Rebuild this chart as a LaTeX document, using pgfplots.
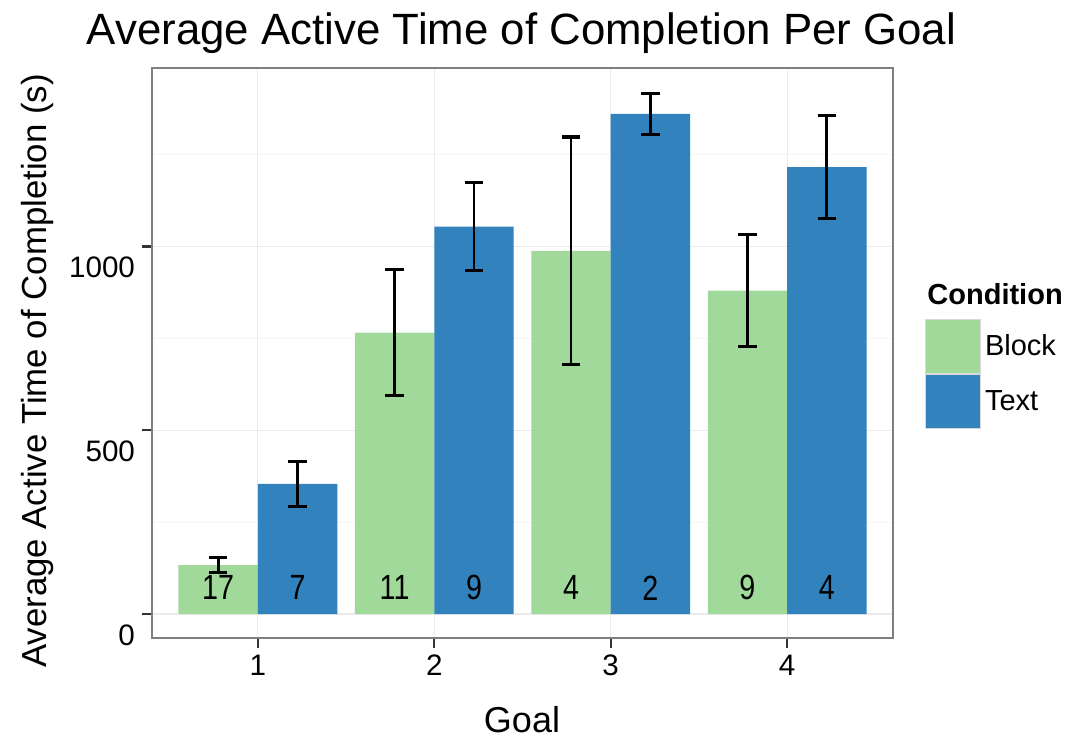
\documentclass[border=0pt]{standalone}
\usepackage{pgfplots}
\pgfplotsset{compat=1.18}
\usepackage{fontspec}
\setmainfont{Liberation Sans}
\definecolor{blockc}{HTML}{A1D99B}
\definecolor{textc}{HTML}{3182BD}
\definecolor{gridmaj}{HTML}{EBEBEB}
\definecolor{gridmin}{HTML}{F5F5F5}
\definecolor{framec}{HTML}{7F7F7F}
\definecolor{tickc}{HTML}{333333}
\begin{document}
\begin{tikzpicture}
\useasboundingbox (-76pt,-50pt) rectangle (458pt,319pt);
\begin{axis}[
  at={(0pt,0pt)}, anchor=south west,
  scale only axis, width=370.5pt, height=285pt,
  xmin=0.4, xmax=4.6, ymin=-65.3, ymax=1486,
  xtick={1,2,3,4}, ytick={0,500,1000}, minor ytick={250,750,1250},
  grid=both,
  major grid style={gridmaj, line width=0.6pt},
  minor grid style={gridmin, line width=0.4pt},
  axis line style={framec, line width=0.8pt},
  tick align=outside, tick pos=left,
  major tick length=5pt, minor tick length=0pt,
  tick style={tickc, line width=1.1pt},
  /pgf/number format/assume math mode=true,
  /pgf/number format/1000 sep={},
  ticklabel style={font=\fontsize{14.8}{17}\selectfont, text=black},
  yticklabel style={yshift=-10.5pt},
  legend style={at={(rel axis cs:1.043,0.5596)}, anchor=north west, draw=none, fill=none,
    inner sep=0pt, row sep=0pt, font=\fontsize{14.5}{17}\selectfont},
  legend cell align=left,
  legend image code/.code={\draw[#1,/tikz/.cd,draw=gray!30,line width=0.4pt] (0pt,-13.5pt) rectangle (27.5pt,13.5pt);},
]
\addplot[ybar, bar width=0.45, bar shift=0pt, fill=blockc, draw=none]
  coordinates {(0.775,133) (1.775,766) (2.775,988) (3.775,880)};
\addlegendentry{Block}
\addplot[ybar, bar width=0.45, bar shift=0pt, fill=textc, draw=none]
  coordinates {(1.225,354) (2.225,1054) (3.225,1361) (4.225,1216)};
\addlegendentry{Text}
\addplot[forget plot, draw=none, mark=none,
  error bars/.cd, y dir=both, y explicit,
  error bar style={draw=black, solid, line width=1.4pt},
  error mark options={rotate=90, draw=black, line width=1.6pt, mark size=4.6pt}]
  coordinates {(0.775,133) +- (0,20) (1.775,766) +- (0,172) (2.775,988) +- (0,310) (3.775,880) +- (0,153)};
\addplot[forget plot, draw=none, mark=none,
  error bars/.cd, y dir=both, y explicit,
  error bar style={draw=black, solid, line width=1.4pt},
  error mark options={rotate=90, draw=black, line width=1.6pt, mark size=4.6pt}]
  coordinates {(1.225,354) +- (0,62) (2.225,1054) +- (0,120) (3.225,1361) +- (0,55) (4.225,1216) +- (0,140)};
\foreach \x/\lab in {0.775/17, 1.225/7, 1.775/11, 2.225/9, 2.775/4, 3.225/2, 3.775/9, 4.225/4} {
  \edef\tmp{\noexpand\node[xscale=0.82, font=\noexpand\fontsize{17.5}{19}\noexpand\selectfont] at (axis cs:\x,71) {\lab};}
  \tmp
}
\end{axis}
\node[rotate=90, font=\fontsize{17.4}{20}\selectfont] at (-57pt,133.5pt) {Average Active Time of Completion (s)};
\node[anchor=base, inner sep=0pt, font=\fontsize{18}{20}\selectfont] at (185pt,-47.3pt) {Goal};
\node[anchor=base, font=\fontsize{21.9}{24}\selectfont] at (184.75pt,296.5pt) {Average Active Time of Completion Per Goal};
\node[anchor=base west, inner sep=0pt, font=\bfseries\fontsize{14.5}{17}\selectfont] at (387.5pt,166.5pt) {Condition};
\end{tikzpicture}
\end{document}
